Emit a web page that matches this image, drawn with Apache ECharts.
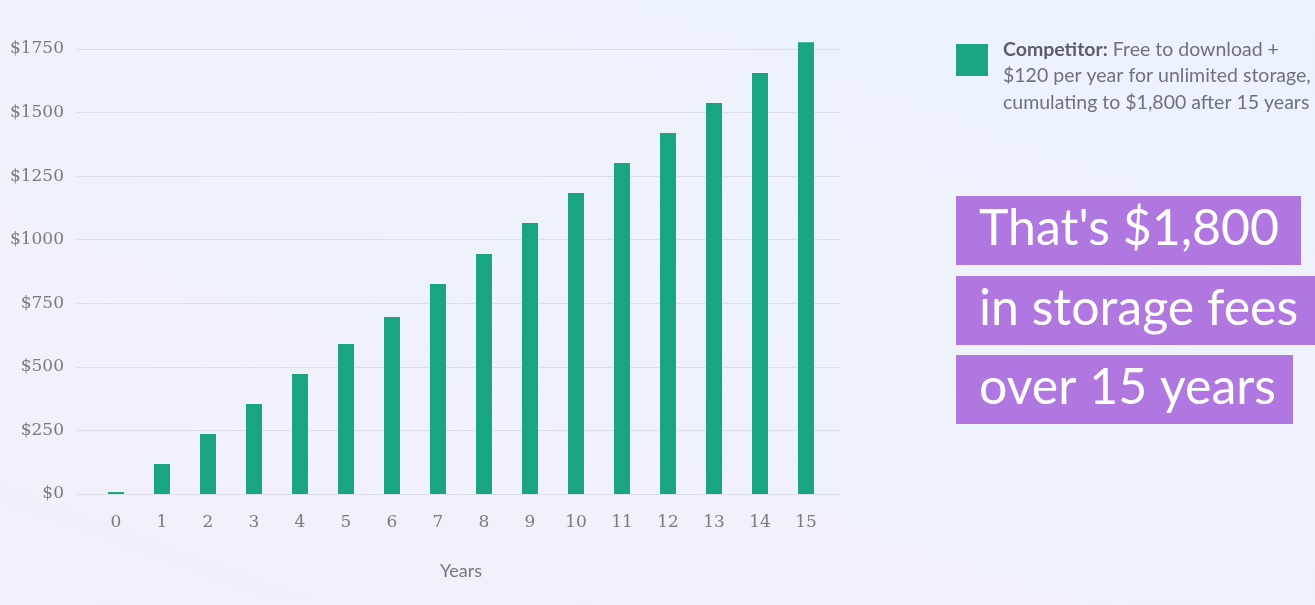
<!DOCTYPE html>
<html>
<head>
<meta charset="utf-8">
<script src="https://cdn.jsdelivr.net/npm/echarts@6/dist/echarts.min.js"></script>
<style>
html,body{margin:0;padding:0;width:1315px;height:605px;overflow:hidden;}
body{background:linear-gradient(20deg,#f2f0fa 0%,#eff2fb 50%,#ebf3fd 100%);}
#chart{width:1315px;height:605px;}
</style>
</head>
<body>
<div id="chart"></div>
<script>
const years = ['0','1','2','3','4','5','6','7','8','9','10','11','12','13','14','15'];
const competitorCost = [0, 118, 236, 354, 472, 590, 696, 826, 944, 1066, 1184, 1302, 1420, 1538, 1656, 1777];
const yMin = 0, yMax = 1750, yStep = 250;
const legendTitle = 'Competitor:';
const legendLines = ['Free to download +', '$120 per year for unlimited storage,', 'cumulating to $1,800 after 15 years'];
const calloutLines = ["That's $1,800", 'in storage fees', 'over 15 years'];
const xAxisTitle = 'Years';

const chart = echarts.init(document.getElementById('chart'), null, {renderer:'canvas'});
const serif = '"DejaVu Serif", serif';
const sans = 'Lato, "Open Sans", sans-serif';
const calloutWidths = [345, 360, 337];
const calloutTops = [196, 276, 355];

const graphics = [
  {type:'rect', left:956, top:44, shape:{width:32,height:32}, style:{fill:'#19a57f'}},
  {type:'text', left:1003, top:36, style:{
    text:'{b|' + legendTitle + '} ' + legendLines[0] + '\n' + legendLines[1] + '\n' + legendLines[2],
    rich:{b:{fontWeight:'bold', fill:'#5d5d69', fontSize:19.5, fontFamily:sans, lineHeight:26.5}},
    fill:'#70707c', fontSize:19.5, fontFamily:sans, lineHeight:26.5
  }}
];
calloutLines.forEach((t,i)=>{
  graphics.push({type:'rect', left:956, top:calloutTops[i], shape:{width:calloutWidths[i], height:69}, style:{fill:'#b077e0'}});
  graphics.push({type:'text', left:979, top:calloutTops[i]+4, style:{text:t, fill:'#ffffff', fontSize:50, fontFamily:sans, fontWeight:'normal', lineHeight:58}});
});

chart.setOption({
  animation:false,
  backgroundColor:'transparent',
  grid:[
    {left:77, right:475, top:49, bottom:111},
    {left:93, right:486, top:49, bottom:111}
  ],
  xAxis:[
    {gridIndex:0, type:'category', data:years, show:false},
    {gridIndex:1, type:'category', data:years,
      axisLine:{show:false}, axisTick:{show:false},
      axisLabel:{color:'#7a7a84', fontFamily:serif, fontSize:17, margin:20},
      name:xAxisTitle, nameLocation:'middle', nameGap:68,
      nameTextStyle:{color:'#76767f', fontFamily:sans, fontSize:18}}
  ],
  yAxis:[
    {gridIndex:0, type:'value', min:yMin, max:yMax, interval:yStep,
      axisLine:{show:false}, axisTick:{show:false},
      axisLabel:{color:'#7a7a84', fontFamily:serif, fontSize:17, margin:13, formatter:v=>'$'+v},
      splitLine:{lineStyle:{color:'#dddee7', width:1}}},
    {gridIndex:1, type:'value', min:yMin, max:yMax, interval:yStep, show:false, splitLine:{show:false}}
  ],
  series:[{
    type:'bar', xAxisIndex:1, yAxisIndex:1, data:competitorCost,
    barWidth:16, barMinHeight:2, clip:false,
    itemStyle:{color:'#19a57f'}
  }],
  graphic:graphics
});
</script>
</body>
</html>
